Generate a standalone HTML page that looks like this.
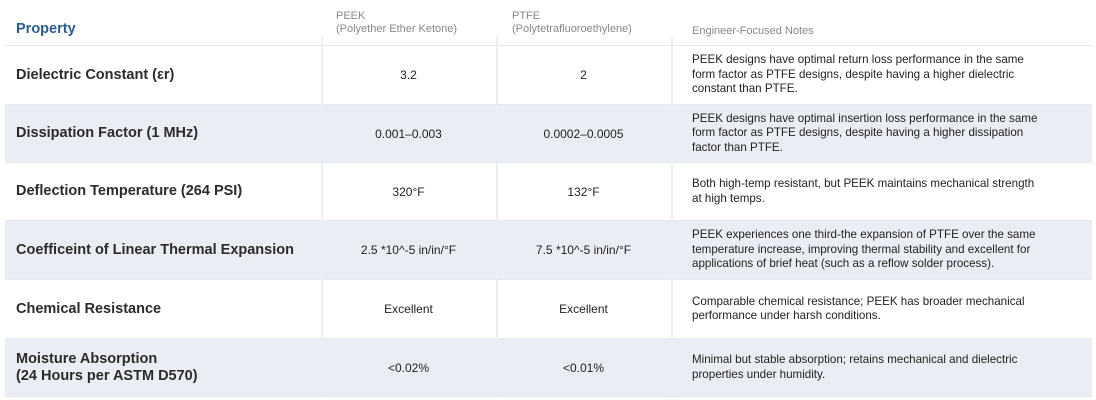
<!DOCTYPE html>
<html><head><style>
body{margin:0;width:1096px;height:400px;background:#fff;font-family:"Liberation Sans",sans-serif;overflow:hidden;}
.t{position:absolute;left:5px;top:0;width:1087px;}
.r{position:absolute;left:0;width:1087px;border-bottom:1.5px solid #e6e8ee;}
.c{position:absolute;top:0;bottom:0;display:flex;align-items:center;}
.p{left:11px;font-weight:bold;font-size:14.5px;color:#2b2b2b;line-height:17px;}
.v{justify-content:center;font-size:12px;color:#222;}
.n{left:687px;width:390px;font-size:11.6px;line-height:14.5px;color:#222;white-space:nowrap;}
.d{position:absolute;top:0;bottom:0;width:1.5px;background:#eceef2;}
.alt{background:#eaedf4;}
</style></head><body>
<div class="t">
 <div class="r" style="top:0;height:45px">
  <div class="c p" style="color:#2a5c8e;align-items:flex-end;padding-bottom:7px;top:0;bottom:0">Property</div>
  <div class="c" style="left:331px;font-size:11px;color:#888;line-height:13px;align-items:flex-start;padding-top:10px">PEEK<br>(Polyether Ether Ketone)</div>
  <div class="c" style="left:507px;font-size:11px;color:#888;line-height:13px;align-items:flex-start;padding-top:10px">PTFE<br>(Polytetrafluoroethylene)</div>
  <div class="c" style="left:687px;font-size:11px;color:#888;align-items:flex-end;padding-bottom:8px">Engineer-Focused Notes</div>
 </div>
 <div class="r" style="top:46px;height:58px">
  <div class="c p">Dielectric Constant (εr)</div>
  <div class="c v" style="left:316px;width:175px">3.2</div>
  <div class="c v" style="left:491px;width:175px">2</div>
  <div class="c n">PEEK designs have optimal return loss performance in the same<br>form factor as PTFE designs, despite having a higher dielectric<br>constant than PTFE.</div>
 </div>
 <div class="r alt" style="top:105px;height:57px">
  <div class="c p">Dissipation Factor (1 MHz)</div>
  <div class="c v" style="left:316px;width:175px">0.001–0.003</div>
  <div class="c v" style="left:491px;width:175px">0.0002–0.0005</div>
  <div class="c n">PEEK designs have optimal insertion loss performance in the same<br>form factor as PTFE designs, despite having a higher dissipation<br>factor than PTFE.</div>
 </div>
 <div class="r" style="top:163px;height:57px">
  <div class="c p">Deflection Temperature (264 PSI)</div>
  <div class="c v" style="left:316px;width:175px">320°F</div>
  <div class="c v" style="left:491px;width:175px">132°F</div>
  <div class="c n">Both high-temp resistant, but PEEK maintains mechanical strength<br>at high temps.</div>
 </div>
 <div class="r alt" style="top:221px;height:58px">
  <div class="c p">Coefficeint of Linear Thermal Expansion</div>
  <div class="c v" style="left:316px;width:175px">2.5 *10^-5 in/in/°F</div>
  <div class="c v" style="left:491px;width:175px">7.5 *10^-5 in/in/°F</div>
  <div class="c n">PEEK experiences one third-the expansion of PTFE over the same<br>temperature increase, improving thermal stability and excellent for<br>applications of brief heat (such as a reflow solder process).</div>
 </div>
 <div class="r" style="top:280px;height:58px">
  <div class="c p">Chemical Resistance</div>
  <div class="c v" style="left:316px;width:175px">Excellent</div>
  <div class="c v" style="left:491px;width:175px">Excellent</div>
  <div class="c n">Comparable chemical resistance; PEEK has broader mechanical<br>performance under harsh conditions.</div>
 </div>
 <div class="r alt" style="top:339px;height:57px">
  <div class="c p">Moisture Absorption<br>(24 Hours per ASTM D570)</div>
  <div class="c v" style="left:316px;width:175px">&lt;0.02%</div>
  <div class="c v" style="left:491px;width:175px">&lt;0.01%</div>
  <div class="c n">Minimal but stable absorption; retains mechanical and dielectric<br>properties under humidity.</div>
 </div>
 <div class="d" style="left:316px;top:36px;height:361px"></div>
 <div class="d" style="left:491px;top:36px;height:361px"></div>
 <div class="d" style="left:666px;top:36px;height:361px"></div>
</div>
</body></html>
